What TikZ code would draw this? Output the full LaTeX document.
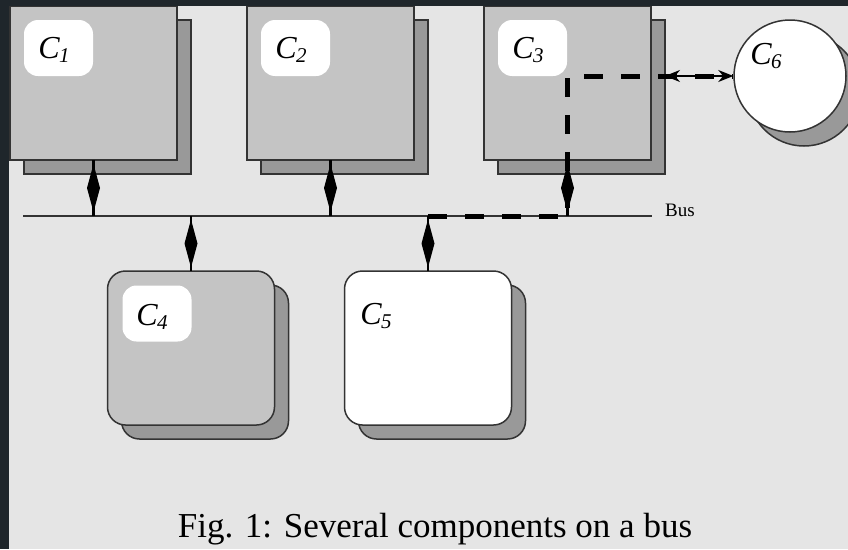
\documentclass[tikz,border=0pt]{standalone}
\usepackage{fontspec}
\setmainfont{Liberation Serif}
\usetikzlibrary{arrows.meta,decorations.markings}
\definecolor{bgdark}{HTML}{1F262B}
\definecolor{panel}{HTML}{E5E5E5}
\definecolor{frontgray}{HTML}{C4C4C4}
\definecolor{shadegray}{HTML}{999999}
\definecolor{edgegray}{HTML}{333333}
\newcommand\clab[1]{\textit{C}\kern-1pt\raisebox{-4pt}{\fontsize{21}{21}\selectfont\textit{#1}}}
\begin{document}
\begin{tikzpicture}[x=1pt,y=-1pt,
  sqbox/.style={draw=edgegray, line width=1.5pt, minimum width=167pt, minimum height=154pt, inner sep=0pt, outer sep=0pt, fill=frontgray},
  shbox/.style={sqbox, fill=shadegray},
  rbox/.style={sqbox, rounded corners=18pt},
  rshbox/.style={shbox, rounded corners=18pt},
  labbox/.style={fill=white, rounded corners=14pt, minimum width=69pt, minimum height=56pt, inner sep=0pt},
  ctext/.style={font=\fontsize{32}{32}\selectfont, inner sep=0pt},
  dia/.style={line width=2.5pt, postaction={decorate}, decoration={markings, mark=at position 0.5 with {\fill (-24pt,0pt) -- (0pt,6.5pt) -- (24pt,0pt) -- (0pt,-6.5pt) -- cycle;}}},
  flow/.style={line width=5pt, dash pattern=on 19pt off 18pt, line join=miter},
  biarr/.style={line width=1.5pt, {Stealth[length=15pt,width=12pt]}-{Stealth[length=15pt,width=12pt]}},
  busline/.style={draw=edgegray, line width=1.5pt}
]
\useasboundingbox (0,0) rectangle (848,549);
\fill[bgdark] (0,0) rectangle (848,549);
\fill[panel] (9,6) rectangle (848,549);
\begin{scope}
\clip (9,6) rectangle (848,549);
% shadows
\node[shbox] (s1) at (107.5,97) {};
\node[shbox] (s2) at (344.5,97) {};
\node[shbox] (s3) at (581.5,97) {};
\node[rshbox] (s4) at (205,362) {};
\node[rshbox] (s5) at (442,362) {};
% front boxes
\node[sqbox] (c1) at (93.5,83) {};
\node[sqbox] (c2) at (330.5,83) {};
\node[sqbox] (c3) at (567.5,83) {};
\node[rbox] (c4) at (191,348) {};
\node[rbox, fill=white] (c5) at (428,348) {};
% label boxes
\node[labbox] (l1) at (58.5,48) {};
\node[labbox] (l2) at (295.5,48) {};
\node[labbox] (l3) at (532.5,48) {};
\node[labbox] (l4) at (157,313.5) {};
% labels
\node[ctext] (t1) at (54,50) {\clab{1}};
\node[ctext] (t2) at (291,50) {\clab{2}};
\node[ctext] (t3) at (528,50) {\clab{3}};
\node[ctext] (t4) at (152,317) {\clab{4}};
\node[ctext] (t5) at (376,316) {\clab{5}};
% bus
\coordinate (busL) at (23,216);
\coordinate (busR) at (652,216);
\draw[busline] (busL) -- (busR);
\node[font=\fontsize{19}{19}\selectfont, anchor=base west, inner sep=0pt] (bustext) at (665,216) {Bus};
% C6
\node[circle, draw=edgegray, line width=1.5pt, fill=shadegray, minimum size=112pt, inner sep=0pt] (s6) at (804,90) {};
\node[circle, draw=edgegray, line width=1.5pt, fill=white, minimum size=112pt, inner sep=0pt] (c6) at (790,76) {};
\node[ctext] (t6) at (766,56) {\clab{6}};
% arrows
\draw[dia] (c1.south) -- (c1.south |- busL);
\draw[dia] (c2.south) -- (c2.south |- busL);
\draw[dia] (c3.south) -- (c3.south |- busL);
\draw[dia] (c4.north |- busL) -- (c4.north);
\draw[dia] (c5.north |- busL) -- (c5.north);
\draw[biarr] (s3.east |- c6.west) -- (c6.west);
\draw[flow] (c5.north |- busL) -- (c3.south |- busL) -- (c3.south |- c6.west) -- (c6.west);
\end{scope}
% caption
\node[font=\fontsize{35}{35}\selectfont, anchor=base, inner sep=0pt] (cap) at (435,537) {Fig. 1: Several components on a bus};
\end{tikzpicture}
\end{document}
